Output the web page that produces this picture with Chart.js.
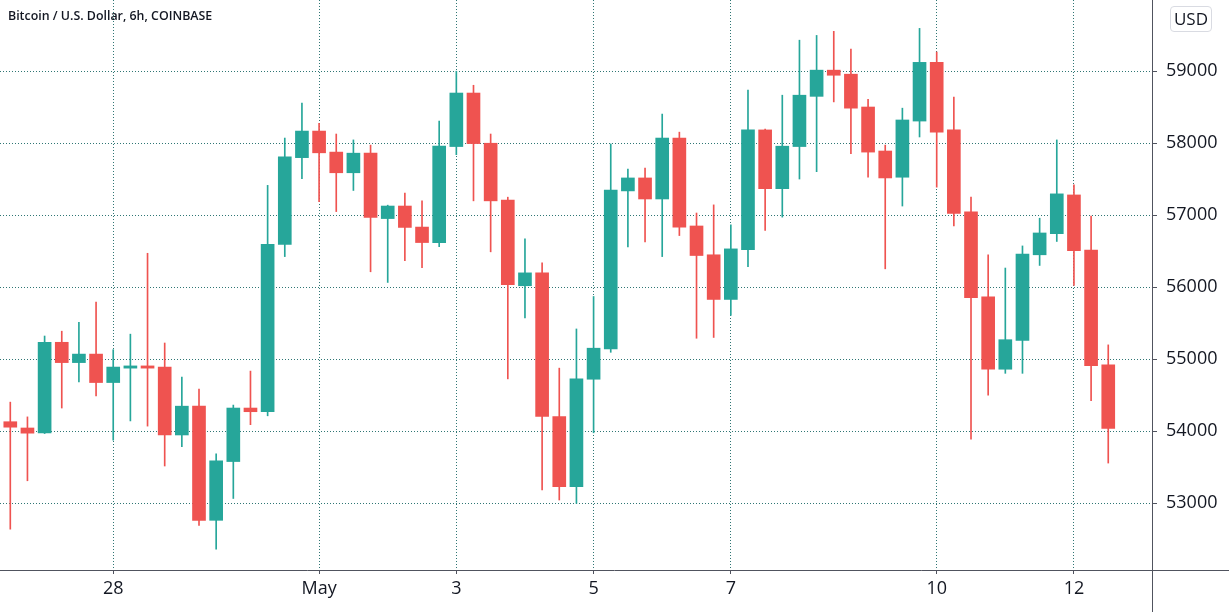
<!DOCTYPE html>
<html>
<head>
<meta charset="utf-8">
<title>Bitcoin / U.S. Dollar, 6h, COINBASE</title>
<script src="https://cdn.jsdelivr.net/npm/chart.js@4.4.0/dist/chart.umd.min.js"></script>
<style>
    html, body { margin: 0; padding: 0; background: #ffffff; }
    #wrap { position: relative; width: 1229px; height: 612px; }
    #title {
        position: absolute; left: 8px; top: 7px;
        font: 600 12.4px 'Open Sans', sans-serif; color: #131722;
    }
    #unit {
        position: absolute; left: 1170px; top: 6px; width: 42px; height: 26px;
        border: 1px solid #d9dbe2; border-radius: 4px; box-sizing: border-box;
        font: 17px 'Open Sans', sans-serif; color: #131722;
        text-align: center; line-height: 24px; background: #fff;
    }
</style>
</head>
<body>
<div id="wrap">
    <canvas id="btcChart" width="1229" height="612"></canvas>
    <div id="title">Bitcoin / U.S. Dollar, 6h, COINBASE</div>
    <div id="unit">USD</div>
</div>
<script>
// DATA (6h candles, 26 Apr 12:00 -> 12 May 12:00)
const opens = [54133, 54046, 53979, 55236, 54954, 55072, 54677, 54877, 54908, 54892,
    53949, 54349, 52764, 53580, 54323, 54272, 56595, 57800, 58169, 57877,
    57590, 57862, 56954, 57128, 56836, 56621, 57954, 58697, 58000, 57210,
    56021, 56200, 54205, 53231, 54723, 55144, 57338, 57518, 57226, 58072,
    56851, 56451, 55831, 56523, 58185, 57369, 57954, 58651, 59015, 58959,
    58503, 57892, 57528, 58308, 59123, 58185, 57046, 55867, 54862, 55262,
    56451, 56744, 57282, 56518, 54923];
const highs = [54405, 54200, 55323, 55390, 55513, 55795, 55133, 55349, 56472, 55226,
    54754, 54585, 53687, 54364, 54836, 57415, 58072, 58559, 58277, 58128,
    58046, 57974, 57140, 57308, 57200, 58308, 59000, 58805, 58128, 57251,
    56672, 56338, 54877, 55421, 55872, 57990, 57641, 57656, 58405, 58154,
    57031, 57144, 56867, 58738, 58195, 58667, 59431, 59497, 59554, 59308,
    58610, 57974, 58487, 59595, 59267, 58641, 57251, 56451, 56267, 56574,
    56959, 58046, 57421, 56990, 55200];
const lows = [52641, 53313, 53969, 54323, 54687, 54492, 53877, 54144, 54072, 53518,
    53785, 52692, 52364, 53067, 54092, 54215, 56426, 57508, 57190, 57051,
    57344, 56215, 56067, 56369, 56272, 56564, 57841, 57200, 56492, 54728,
    55574, 53185, 53046, 53000, 53979, 55097, 56559, 56631, 56426, 56718,
    55292, 55303, 55610, 56287, 56790, 56974, 57503, 57605, 58574, 57856,
    57528, 56256, 57128, 58087, 57390, 56851, 53892, 54503, 54805, 54805,
    56303, 56636, 56026, 54426, 53559];
const closes = [54057, 53974, 55236, 54954, 55072, 54677, 54892, 54908, 54877, 53949,
    54349, 52764, 53590, 54323, 54272, 56595, 57810, 58169, 57867, 57590,
    57862, 56969, 57128, 56831, 56621, 57959, 58697, 57995, 57200, 56036,
    56200, 54205, 53231, 54728, 55154, 57349, 57518, 57226, 58072, 56836,
    56441, 55831, 56533, 58185, 57369, 57959, 58667, 59015, 58944, 58487,
    57877, 57518, 58323, 59123, 58154, 57026, 55856, 54862, 55272, 56462,
    56754, 57297, 56508, 54913, 54041];

// x axis labels sit on these candle indexes
const tickAt = [6, 18, 26, 34, 42, 54, 62];
const tickLabels = ['28', 'May', '3', '5', '7', '10', '12'];
const priceTicks = [53000, 54000, 55000, 56000, 57000, 58000, 59000];

const UP = '#26a69a';
const DOWN = '#ef5350';
const GRID = '#2f7674';
const AXIS = '#50535e';
const TEXT = '#131722';

const candleColors = closes.map((c, i) => c >= opens[i] ? UP : DOWN);
const bodies = opens.map((o, i) => ({ x: i, y: [o, closes[i]] }));
const wicks = lows.map((l, i) => ({ x: i, y: [l, highs[i]] }));

// full-length axis lines (they run past the plot area in the original)
const frameLines = {
    id: 'frameLines',
    afterDraw(chart) {
        const c = chart.ctx;
        const a = chart.chartArea;
        c.save();
        c.strokeStyle = AXIS;
        c.lineWidth = 1;
        c.beginPath();
        c.moveTo(0, Math.round(a.bottom) + 0.5);
        c.lineTo(chart.width, Math.round(a.bottom) + 0.5);
        c.moveTo(Math.round(a.right) + 0.5, 0);
        c.lineTo(Math.round(a.right) + 0.5, chart.height);
        c.stroke();
        c.restore();
    }
};

function noPadding(scale) {
    scale.paddingTop = 0;
    scale.paddingBottom = 0;
    scale.paddingLeft = 0;
    scale.paddingRight = 0;
}

const ctx = document.getElementById('btcChart').getContext('2d');
const btcChart = new Chart(ctx, {
    type: 'bar',
    data: {
        datasets: [{
            label: 'body',
            data: bodies,
            backgroundColor: candleColors,
            barThickness: 13,
            minBarLength: 1,
            grouped: false,
            order: 0
        }, {
            label: 'wick',
            data: wicks,
            backgroundColor: candleColors,
            barThickness: 1,
            grouped: false,
            order: 1
        }]
    },
    options: {
        responsive: false,
        animation: false,
        devicePixelRatio: 1,
        layout: { padding: 0 },
        plugins: {
            legend: { display: false },
            tooltip: { enabled: false }
        },
        scales: {
            x: {
                type: 'linear',
                offset: false,
                min: -0.6,
                max: 66.55,
                afterBuildTicks: scale => { scale.ticks = tickAt.map(v => ({ value: v })); },
                afterFit: scale => { scale.height = 42; noPadding(scale); },
                ticks: {
                    autoSkip: false,
                    maxRotation: 0,
                    padding: 4,
                    color: TEXT,
                    font: { family: 'Open Sans', size: 18 },
                    callback: v => tickLabels[tickAt.indexOf(v)]
                },
                grid: { offset: false, color: GRID, tickLength: 4, tickColor: AXIS, tickBorderDash: [] },
                border: { display: false, dash: [1, 2] }
            },
            y: {
                position: 'right',
                min: 52074,
                max: 59989,
                afterBuildTicks: scale => { scale.ticks = priceTicks.map(v => ({ value: v })); },
                afterFit: scale => { scale.width = 77; noPadding(scale); },
                ticks: {
                    padding: 9,
                    color: TEXT,
                    font: { family: 'Open Sans', size: 18 },
                    callback: v => String(v)
                },
                grid: { color: GRID, tickLength: 5, tickColor: AXIS, tickBorderDash: [] },
                border: { display: false, dash: [1, 2] }
            }
        }
    },
    plugins: [frameLines]
});
</script>
</body>
</html>
